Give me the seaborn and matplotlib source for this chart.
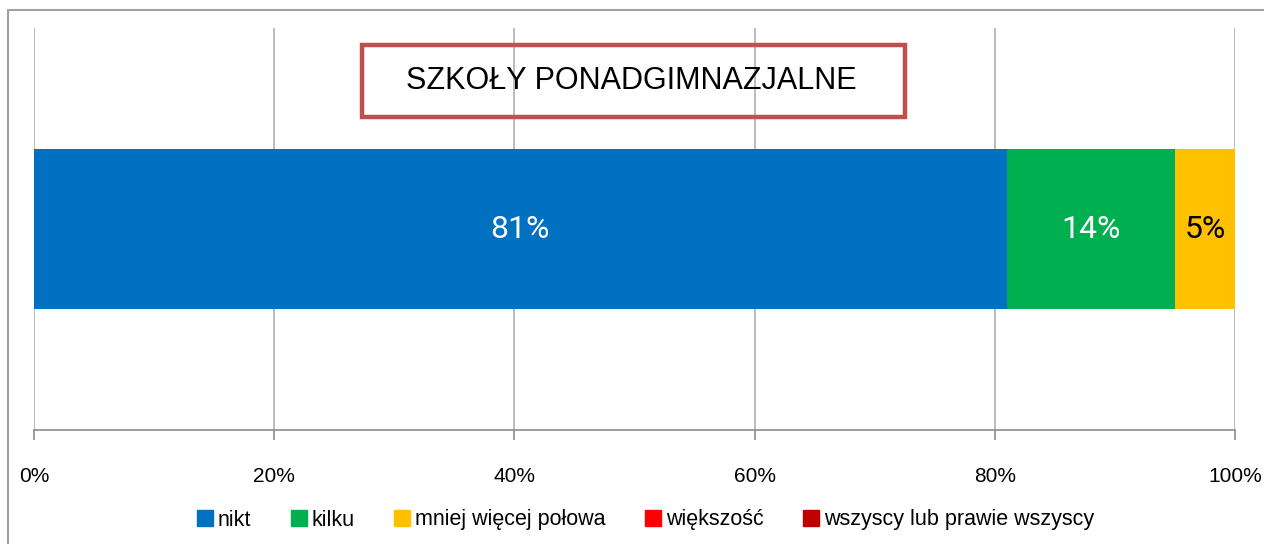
import numpy as np
import pandas as pd
import matplotlib
matplotlib.use('Agg')
import matplotlib.pyplot as plt
from matplotlib.patches import Rectangle
from matplotlib.lines import Line2D
import seaborn as sns

#-----------------------------------------------
title='SZKOŁY PONADGIMNAZJALNE'
l_cat=['nikt', 'kilku', 'mniej więcej połowa', 'większość', 'wszyscy lub prawie wszyscy']
l_val=[81, 14, 5, 0, 0]
l_col=['#0070C0', '#00B050', '#FFC000', '#FF0000', '#C00000']
l_txtcol=['white', 'white', 'black', 'black', 'black']
l_tick=[0, 20, 40, 60, 80, 100]
group='szkoly'

#######################################################
sns.set_style('white')
plt.rcParams['font.family']=['Liberation Sans Narrow', 'Liberation Sans', 'DejaVu Sans']
plt.rcParams['text.color']='black'

df=pd.DataFrame({'cat': l_cat, 'val': l_val, 'col': l_col})
df['left']=df['val'].cumsum()-df['val']
df['cum']=df['val'].cumsum()

fig=plt.figure(figsize=(12.64, 5.44), dpi=100)
ax=fig.add_axes([34/1264, 114/544, 1201/1264, 402/544])

#stacked bars: draw cumulative totals from the largest down
for i in reversed(range(len(df))):
    sns.barplot(x=[df.loc[i, 'cum']], y=[group], orient='h', color=df.loc[i, 'col'],
                width=1.0, saturation=1, linewidth=0, ax=ax, zorder=3)

#labels
for i, r in df.iterrows():
    if r['val']>0:
        ax.text(r['left']+r['val']/2, 0, f"{r['val']}%", ha='center', va='center',
                fontsize=23, color=l_txtcol[i], zorder=5,
                family=['Roboto', 'DejaVu Sans'])

#adjust
ax.set_xlim(0, 100)
ax.set_ylim(1.256, -1.256)
ax.set_xticks(l_tick)
ax.set_xticklabels([f'{t}%' for t in l_tick], fontsize=15)
ax.set_yticks([])
ax.set_xlabel('')
ax.set_ylabel('')
ax.grid(axis='x', color='#B0B0B0', lw=1.2, zorder=0)
for s in ['top', 'right', 'left']:
    ax.spines[s].set_visible(False)
ax.spines['bottom'].set_color('#8C8C8C')
ax.spines['bottom'].set_linewidth(1.2)
ax.tick_params(axis='x', which='both', bottom=True, length=7, width=1.2, color='#8C8C8C',
               labelcolor='black', pad=20)

#title box
fig.patches.append(Rectangle((362/1264, 1-117/544), 543/1264, 72/544, transform=fig.transFigure,
                             fill=False, ec='#C0504D', lw=3.2, zorder=10))
fig.text(631/1264, 1-81/544, title, ha='center', va='center', fontsize=22, color='black')

#outer frame
fig.patches.append(Rectangle((8/1264, -0.1), 1.2, 1.1-10/544, transform=fig.transFigure,
                             fill=False, ec='#A0A0A0', lw=1.5, zorder=0))

#legend
handles=[Line2D([], [], marker='s', ls='', markersize=11, markerfacecolor=c, markeredgecolor=c) for c in l_col]
fig.legend(handles, l_cat, loc='center', bbox_to_anchor=(644/1264, 1-520/544), ncol=5, frameon=False,
           fontsize=15.5, handletextpad=0.1, columnspacing=1.7, handlelength=1.0, labelcolor='black')

#save
plt.savefig('out.png', dpi=100)
plt.close()
